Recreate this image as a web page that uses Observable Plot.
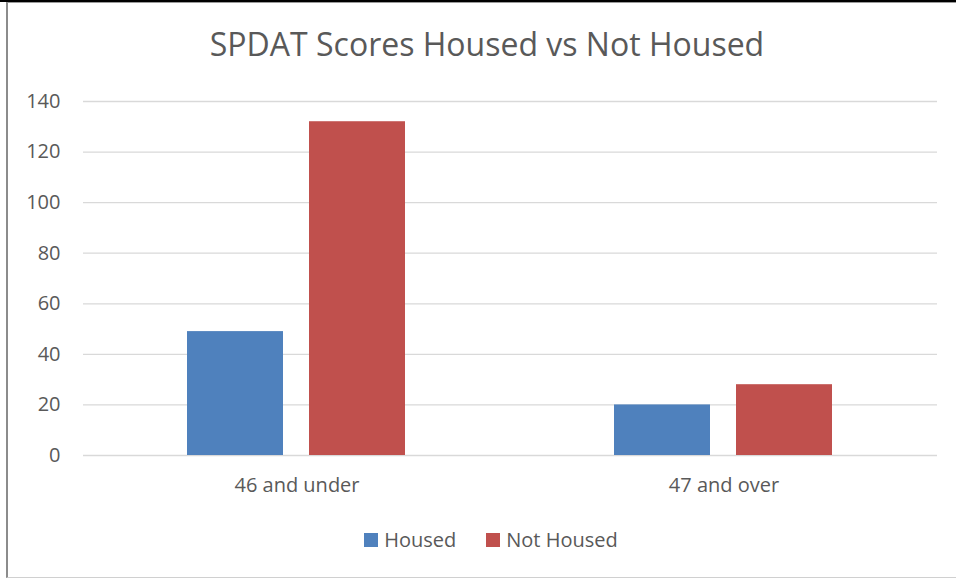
<!DOCTYPE html>
<html>
<head>
<meta charset="utf-8">
<script src="https://cdn.jsdelivr.net/npm/d3@7"></script>
<script src="https://cdn.jsdelivr.net/npm/@observablehq/plot@0.6"></script>
<style>
  html, body { margin: 0; padding: 0; background: #fff; }
  body { width: 956px; height: 578px; position: relative; overflow: hidden; font-family: "Open Sans", sans-serif; color: #595959; }
  #topline { position: absolute; left: 0; top: 0; width: 956px; height: 2px; background: #000; }
  #frame { position: absolute; left: 6px; top: 2px; width: 960px; height: 574px; border-left: 2px solid #8c8c8c; border-top: 1px solid #9a9a9a; border-bottom: 1px solid #d0d0d0; box-sizing: content-box; }
  #title { position: absolute; left: 0; top: 22px; width: 974px; text-align: center; font-size: 32px; line-height: 44px; color: #595959; }
  #chart { position: absolute; left: 0; top: 80px; }
  #legend { position: absolute; left: 0; top: 527px; width: 982px; display: flex; justify-content: center; font-size: 20px; line-height: 26px; }
  .item { display: flex; align-items: center; margin: 0 15px; }
  .sw { width: 14px; height: 14px; margin-right: 6px; }
</style>
</head>
<body>
<div id="topline"></div>
<div id="frame"></div>
<div id="title">SPDAT Scores Housed vs Not Housed</div>
<div id="chart"></div>
<div id="legend"></div>
<script>
const categories = ["46 and under", "47 and over"];
const series = ["Housed", "Not Housed"];
const housedValues = [49, 20];
const notHousedValues = [132, 28];
const yTicks = [0, 20, 40, 60, 80, 100, 120, 140];
const colors = ["#4F81BD", "#C0504D"];

const rows = [];
categories.forEach((c, i) => {
  rows.push({cat: c, series: series[0], value: housedValues[i]});
  rows.push({cat: c, series: series[1], value: notHousedValues[i]});
});

const chart = Plot.plot({
  width: 956,
  height: 430,
  marginLeft: 83,
  marginRight: 19,
  marginTop: 21,
  marginBottom: 55,
  style: {fontFamily: "Open Sans, sans-serif", fontSize: "20px", color: "#595959", background: "transparent"},
  facet: {data: rows, x: "cat"},
  fx: {domain: categories, padding: 0, tickSize: 0, tickPadding: 22, label: null},
  x: {domain: series, paddingInner: 0.21, paddingOuter: 0.85, axis: null},
  y: {domain: [0, 140], ticks: yTicks, tickSize: 0, tickPadding: 23, label: null, tickFormat: d => d},
  color: {domain: series, range: colors},
  marks: [
    Plot.ruleY(yTicks, {stroke: "#d9d9d9", strokeWidth: 1.3}),
    Plot.barY(rows, {x: "series", y: "value", fill: "series"})
  ]
});
document.getElementById("chart").appendChild(chart);

const legend = d3.select("#legend");
series.forEach((s, i) => {
  const it = legend.append("div").attr("class", "item");
  it.append("div").attr("class", "sw").style("background", colors[i]);
  it.append("span").text(s);
});
</script>
</body>
</html>
